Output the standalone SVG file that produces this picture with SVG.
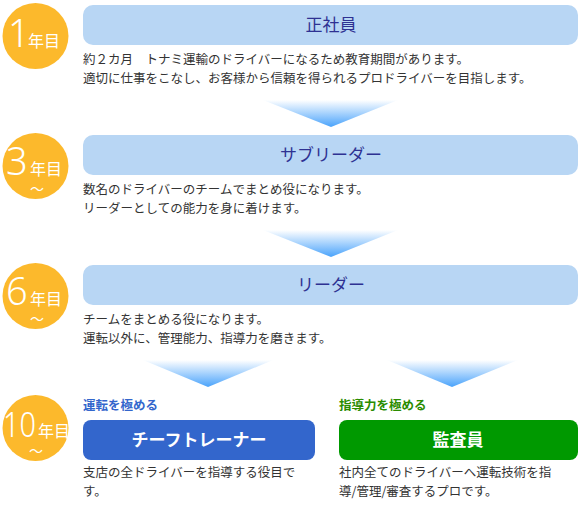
<svg xmlns="http://www.w3.org/2000/svg" width="584" height="507" viewBox="0 0 584 507">
<defs>
<linearGradient id="ag" x1="0" y1="0" x2="0" y2="1">
<stop offset="0" stop-color="#ffffff"/>
<stop offset="1" stop-color="#4aa3fb"/>
</linearGradient>
<style>
.c{fill:#fcb92c}
.yr{font-family:"Noto Sans","Liberation Sans",sans-serif;font-weight:300;fill:#fff}
.nen{font-family:"Noto Sans CJK JP",sans-serif;fill:#fff;font-size:16px}
.til{font-family:"Noto Sans CJK JP",sans-serif;fill:#fff;font-size:14px;text-anchor:middle}
.box{fill:#b8d6f4}
.tt{font-family:"Noto Sans CJK JP",sans-serif;font-size:17px;fill:#2e3192;text-anchor:middle}
.d{font-family:"Noto Sans CJK JP",sans-serif;font-size:12.5px;fill:#333}
.arr{fill:url(#ag)}
.lb{font-family:"Noto Sans CJK JP",sans-serif;font-size:12.5px;font-weight:bold}
.wt{font-family:"Noto Sans CJK JP",sans-serif;font-size:17px;fill:#fff;text-anchor:middle;font-weight:bold}
</style>
</defs>
<g id="y1">
<circle class="c" cx="35.5" cy="36" r="33"/>
<text class="yr" x="8" y="47" font-size="38">1</text>
<text class="nen" x="28" y="47">年目</text>
</g>
<g id="n1">
<rect class="box" x="83" y="5" width="495" height="40" rx="10"/>
<text class="tt" x="331" y="31">正社員</text>
<text class="d" x="83" y="64">約２カ月　トナミ運輸のドライバーになるため教育期間があります。</text>
<text class="d" x="83" y="83">適切に仕事をこなし、お客様から信頼を得られるプロドライバーを目指します。</text>
</g>
<g id="y3">
<circle class="c" cx="35.5" cy="166" r="33"/>
<text class="yr" x="6" y="175" font-size="38">3</text>
<text class="nen" x="30" y="175">年目</text>
<text class="til" x="37" y="194">〜</text>
</g>
<g id="n2">
<rect class="box" x="83" y="135" width="495" height="40" rx="10"/>
<text class="tt" x="331" y="161">サブリーダー</text>
<text class="d" x="83" y="194">数名のドライバーのチームでまとめ役になります。</text>
<text class="d" x="83" y="213">リーダーとしての能力を身に着けます。</text>
</g>
<g id="y6">
<circle class="c" cx="35.5" cy="296" r="33"/>
<text class="yr" x="6" y="305" font-size="38">6</text>
<text class="nen" x="30" y="305">年目</text>
<text class="til" x="37" y="324">〜</text>
</g>
<g id="n3">
<rect class="box" x="83" y="265" width="495" height="40" rx="10"/>
<text class="tt" x="331" y="291">リーダー</text>
<text class="d" x="83" y="324">チームをまとめる役になります。</text>
<text class="d" x="83" y="343">運転以外に、管理能力、指導力を磨きます。</text>
</g>
<g id="y10">
<circle class="c" cx="35.5" cy="428" r="33"/>
<text class="yr" x="3" y="437" font-size="34" textLength="33" lengthAdjust="spacingAndGlyphs">10</text>
<text class="nen" x="38" y="437" font-size="14.5">年目</text>
<text class="til" x="36" y="456">〜</text>
</g>
<g id="n4">
<text class="lb" x="83" y="410" fill="#3366cc">運転を極める</text>
<rect x="83" y="420" width="232" height="40" rx="8" fill="#3366cc"/>
<text class="wt" x="199" y="446">チーフトレーナー</text>
<text class="d" x="83" y="477">支店の全ドライバーを指導する役目で</text>
<text class="d" x="83" y="496">す。</text>
</g>
<g id="n5">
<text class="lb" x="339" y="410" fill="#2a8c00">指導力を極める</text>
<rect x="339" y="420" width="239" height="40" rx="8" fill="#009900"/>
<text class="wt" x="458" y="446">監査員</text>
<text class="d" x="339" y="477">社内全てのドライバーへ運転技術を指</text>
<text class="d" x="339" y="496">導/管理/審査するプロです。</text>
</g>
<g id="connectors">
<polygon class="arr" points="263,100 398,100 331,127"/>
<polygon class="arr" points="263,230 398,230 331,257"/>
<polygon class="arr" points="143,360 273,360 208,387"/>
<polygon class="arr" points="387,360 518,360 452,387"/>
</g>
</svg>
